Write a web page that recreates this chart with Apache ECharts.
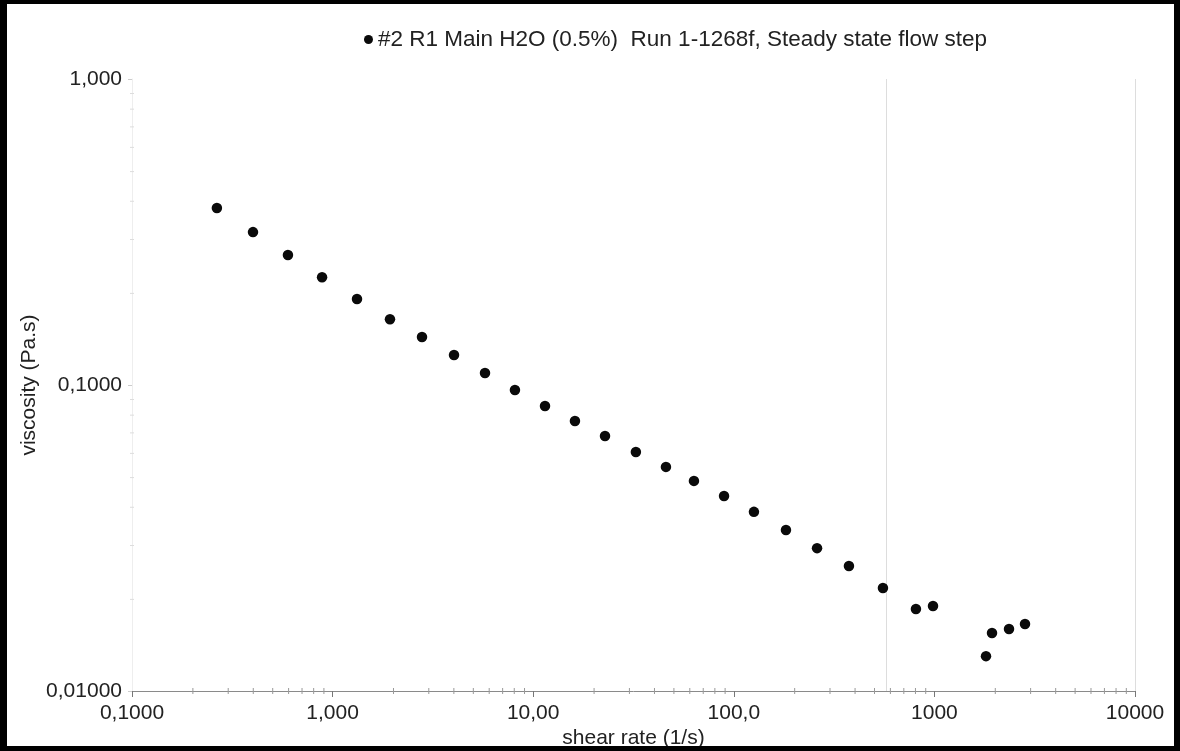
<!DOCTYPE html>
<html>
<head>
<meta charset="utf-8">
<script src="https://cdn.jsdelivr.net/npm/echarts@6/dist/echarts.min.js"></script>
<style>
html,body{margin:0;padding:0;background:#fff;}
#chart{width:1180px;height:751px;}
</style>
</head>
<body>
<div id="chart"></div>
<script>
// shear rate (1/s)
const shearRate = [0.265, 0.401, 0.599, 0.886, 1.323, 1.932, 2.79, 4.03, 5.75, 8.11, 11.45, 16.15, 22.8, 32.5, 45.9, 63.3, 89.4, 126, 182, 260, 375, 554, 809, 984, 1808, 1937, 2355, 2829];
// viscosity (Pa.s)
const viscosity = [0.379, 0.316, 0.266, 0.225, 0.191, 0.164, 0.1435, 0.1253, 0.1094, 0.0963, 0.0854, 0.0763, 0.0681, 0.0604, 0.0540, 0.0486, 0.0434, 0.0385, 0.0336, 0.0293, 0.0256, 0.0217, 0.01853, 0.01896, 0.0130, 0.01548, 0.01595, 0.01656];
const seriesName = '#2 R1 Main H2O (0.5%)  Run 1-1268f, Steady state flow step';
const xTickLabels = ['0,1000', '1,000', '10,00', '100,0', '1000', '10000'];   // 1e-1 .. 1e4
const yTickLabels = ['0,01000', '0,1000', '1,000'];                           // 1e-2 .. 1e0
const xMin = 0.1, xMax = 10000, yMin = 0.01, yMax = 1;
const refLinesX = [575, 10000];
const minorMultipliers = [2, 3, 4, 5, 6, 7, 8, 9];

const xMinor = [];
for (let e = -1; e < 4; e++) minorMultipliers.forEach(m => xMinor.push([m * Math.pow(10, e), yMin]));
const yMinor = [];
for (let e = -2; e < 0; e++) minorMultipliers.forEach(m => yMinor.push([xMin, m * Math.pow(10, e)]));

const FONT = '"Liberation Sans", Arial, Helvetica, sans-serif';
const chart = echarts.init(document.getElementById('chart'), null, {renderer: 'canvas'});

function tickRenderer(dir, len, color) {
  return function (params, api) {
    const p = api.coord([api.value(0), api.value(1)]);
    const shape = dir === 'x'
      ? {x1: p[0] + 0.5, y1: p[1] - len, x2: p[0] + 0.5, y2: p[1] + len}
      : {x1: p[0] - len, y1: p[1] + 0.5, x2: p[0] + len, y2: p[1] + 0.5};
    return {type: 'line', shape: shape, style: {stroke: color, lineWidth: 1}, silent: true};
  };
}

chart.setOption({
  backgroundColor: '#fff',
  animation: false,
  grid: {left: 132, right: 45, top: 79, bottom: 60, containLabel: false, outerBoundsMode: 'none'},
  legend: {
    data: [seriesName],
    left: 359, top: 23,
    icon: 'circle', itemWidth: 9, itemHeight: 9,
    textStyle: {fontFamily: FONT, fontSize: 22.5, color: '#222'}
  },
  xAxis: {
    type: 'log', logBase: 10, min: xMin, max: xMax, splitNumber: 5,
    name: 'shear rate (1/s)', nameLocation: 'middle', nameGap: 37, nameMoveOverlap: false,
    nameTextStyle: {fontFamily: FONT, fontSize: 21, color: '#222'},
    axisLine: {show: true, lineStyle: {color: '#8a8a8a', width: 1}},
    axisTick: {show: true, length: 6, lineStyle: {color: '#777'}},
    splitLine: {show: false},
    axisLabel: {
      fontFamily: FONT, fontSize: 21, color: '#222', margin: 12,
      formatter: v => xTickLabels[Math.round(Math.log10(v)) + 1] || ''
    }
  },
  yAxis: {
    type: 'log', logBase: 10, min: yMin, max: yMax, splitNumber: 2,
    name: 'viscosity (Pa.s)', nameLocation: 'middle', nameGap: 92, nameRotate: 90, nameMoveOverlap: false,
    nameTextStyle: {fontFamily: FONT, fontSize: 21, color: '#222'},
    axisLine: {show: true, lineStyle: {color: '#eeeeee', width: 1}},
    axisTick: {show: true, length: 4, lineStyle: {color: '#cccccc'}},
    splitLine: {show: false},
    axisLabel: {
      fontFamily: FONT, fontSize: 21, color: '#222', margin: 10,
      formatter: v => yTickLabels[Math.round(Math.log10(v)) + 2] || ''
    }
  },
  graphic: [
    {type: 'rect', shape: {x: 0, y: 0, width: 7, height: 751}, style: {fill: '#000'}, z: 100},
    {type: 'rect', shape: {x: 0, y: 0, width: 1180, height: 4}, style: {fill: '#000'}, z: 100},
    {type: 'rect', shape: {x: 1174, y: 0, width: 6, height: 751}, style: {fill: '#000'}, z: 100},
    {type: 'rect', shape: {x: 0, y: 746, width: 1180, height: 5}, style: {fill: '#000'}, z: 100}
  ],
  series: [
    {
      name: seriesName, type: 'scatter',
      data: shearRate.map((x, i) => [x, viscosity[i]]),
      symbol: 'circle', symbolSize: 10.5,
      itemStyle: {color: '#0a0a0a', opacity: 1},
      z: 5,
      markLine: {
        silent: true, symbol: 'none', label: {show: false},
        lineStyle: {color: '#dddddd', type: 'solid', width: 1},
        data: refLinesX.map(v => ({xAxis: v}))
      }
    },
    {type: 'custom', data: xMinor, renderItem: tickRenderer('x', 3, '#999'), silent: true, z: 3},
    {type: 'custom', data: yMinor, renderItem: tickRenderer('y', 2, '#dddddd'), silent: true, z: 3}
  ]
});
</script>
</body>
</html>
